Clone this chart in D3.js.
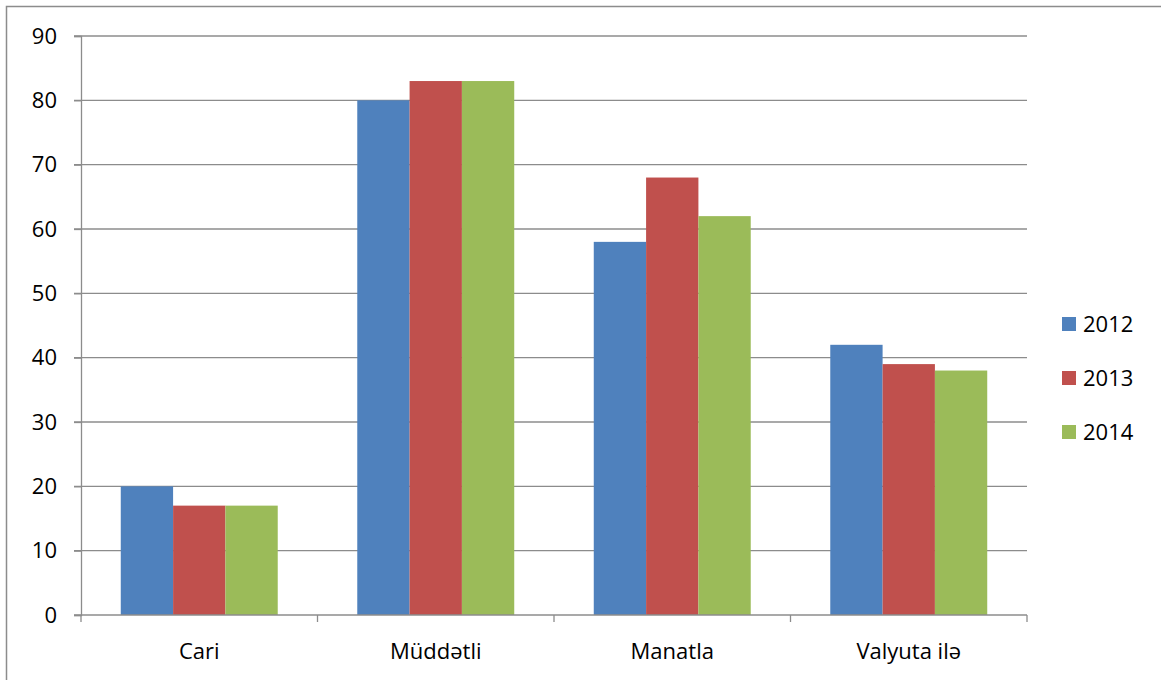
<!DOCTYPE html>
<html>
<head>
<meta charset="utf-8">
<script src="https://cdn.jsdelivr.net/npm/d3@7"></script>
<style>
  html, body { margin: 0; padding: 0; background: #fff; }
  svg { display: block; font-family: "Open Sans", Lato, sans-serif; }
</style>
</head>
<body>
<svg id="chart" width="1161" height="680"></svg>
<script>
const categories = ["Cari", "Müddətli", "Manatla", "Valyuta ilə"];
const years = ["2012", "2013", "2014"];
const values2012 = [20, 80, 58, 42];
const values2013 = [17, 83, 68, 39];
const values2014 = [17, 83, 62, 38];
const yTicks = [0, 10, 20, 30, 40, 50, 60, 70, 80, 90];
const colors = ["#4f81bd", "#c0504d", "#9bbb59"];

const series = [values2012, values2013, values2014];
const svg = d3.select("#chart");
const fontSize = 22;

// outer frame of the chart object
svg.append("rect")
  .attr("x", 6.5).attr("y", 6.5)
  .attr("width", 1200).attr("height", 700)
  .attr("fill", "none").attr("stroke", "#8c8c8c").attr("stroke-width", 1.5);

const plotLeft = 81, plotRight = 1027, plotTop = 36, plotBottom = 615;

const x = d3.scaleBand().domain(categories).range([plotLeft, plotRight]).paddingInner(0).paddingOuter(0);
const xInner = d3.scaleBand().domain(years).range([0, x.bandwidth()]).paddingInner(0).paddingOuter(0.76);
const y = d3.scaleLinear().domain([0, 90]).range([plotBottom, plotTop]);

const gridColor = "#8c8c8c";

// horizontal gridlines with left tick marks
svg.append("g")
  .selectAll("line")
  .data(yTicks.filter(d => d > 0))
  .join("line")
  .attr("x1", plotLeft - 7).attr("x2", plotRight)
  .attr("y1", d => y(d)).attr("y2", d => y(d))
  .attr("stroke", gridColor).attr("stroke-width", 1.3);

// bars
const groups = svg.append("g")
  .selectAll("g")
  .data(categories)
  .join("g")
  .attr("transform", d => `translate(${x(d)},0)`);

groups.selectAll("rect")
  .data((c, i) => years.map((yr, j) => ({ yr, v: series[j][i], j })))
  .join("rect")
  .attr("x", d => xInner(d.yr))
  .attr("width", xInner.bandwidth())
  .attr("y", d => y(d.v))
  .attr("height", d => y(0) - y(d.v))
  .attr("fill", d => colors[d.j]);

// y axis
const yAxis = svg.append("g")
  .attr("transform", `translate(${plotLeft},0)`)
  .call(d3.axisLeft(y).tickValues(yTicks).tickSize(7).tickPadding(17));
yAxis.select(".domain").attr("stroke", gridColor).attr("stroke-width", 1.3);
yAxis.selectAll(".tick line").attr("stroke", gridColor).attr("stroke-width", 1.3);
yAxis.selectAll(".tick text").attr("font-size", fontSize).attr("fill", "#000")
  .style("font-family", "'Open Sans', Lato, sans-serif");

// x axis with boundary ticks
const xAxisG = svg.append("g").attr("transform", `translate(0,${plotBottom})`);
xAxisG.append("line")
  .attr("x1", plotLeft - 7).attr("x2", plotRight)
  .attr("stroke", gridColor).attr("stroke-width", 1.3);
const bounds = categories.map(c => x(c)).concat([plotRight]);
xAxisG.selectAll("line.tk")
  .data(bounds)
  .join("line").attr("class", "tk")
  .attr("x1", d => d).attr("x2", d => d)
  .attr("y1", 0).attr("y2", 7)
  .attr("stroke", gridColor).attr("stroke-width", 1.3);
xAxisG.selectAll("text")
  .data(categories)
  .join("text")
  .attr("x", d => x(d) + x.bandwidth() / 2)
  .attr("y", 44)
  .attr("text-anchor", "middle")
  .attr("font-size", fontSize)
  .attr("fill", "#000")
  .text(d => d);

// legend
const legend = svg.append("g")
  .selectAll("g")
  .data(years)
  .join("g")
  .attr("transform", (d, i) => `translate(1062,${324 + i * 54})`);
legend.append("rect")
  .attr("x", 0).attr("y", -7).attr("width", 14).attr("height", 14)
  .attr("fill", (d, i) => colors[i]);
legend.append("text")
  .attr("x", 21).attr("y", 8)
  .attr("font-size", fontSize).attr("fill", "#000")
  .text(d => d);
</script>
</body>
</html>
